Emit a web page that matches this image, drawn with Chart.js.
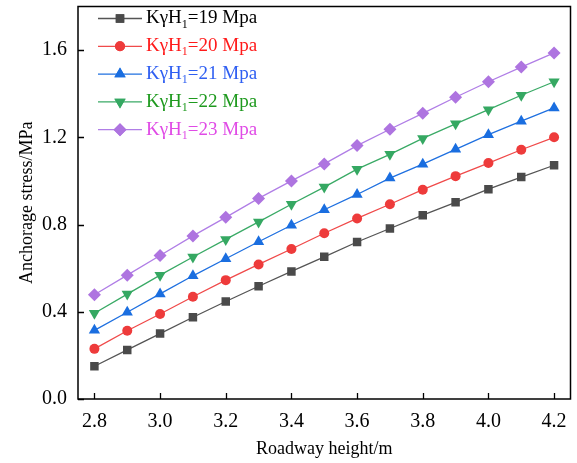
<!DOCTYPE html>
<html>
<head>
<meta charset="utf-8">
<script src="https://cdn.jsdelivr.net/npm/chart.js@4.4.1/dist/chart.umd.min.js"></script>
<style>
  html, body { margin: 0; padding: 0; background: #fff; }
  #wrap { width: 577px; height: 463px; }
</style>
</head>
<body>
<div id="wrap"><canvas id="chart" width="577" height="463"></canvas></div>
<script>
// roadway height (m)
const heights = [2.8, 2.9, 3.0, 3.1, 3.2, 3.3, 3.4, 3.5, 3.6, 3.7, 3.8, 3.9, 4.0, 4.1, 4.2];

// anchorage stress (MPa) per KγH1 level
const stress19 = [0.15, 0.225, 0.30, 0.375, 0.447, 0.517, 0.585, 0.652, 0.72, 0.782, 0.843, 0.902, 0.962, 1.018, 1.072];
const stress20 = [0.23, 0.313, 0.39, 0.469, 0.545, 0.617, 0.688, 0.76, 0.828, 0.893, 0.96, 1.022, 1.082, 1.143, 1.2];
const stress21 = [0.315, 0.398, 0.482, 0.565, 0.643, 0.721, 0.797, 0.868, 0.938, 1.013, 1.077, 1.145, 1.212, 1.274, 1.335];
const stress22 = [0.393, 0.481, 0.568, 0.651, 0.732, 0.812, 0.893, 0.972, 1.054, 1.122, 1.195, 1.262, 1.327, 1.393, 1.455];
const stress23 = [0.478, 0.568, 0.658, 0.748, 0.833, 0.92, 1.0, 1.078, 1.162, 1.237, 1.31, 1.384, 1.455, 1.522, 1.587];

const loads = ["19", "20", "21", "22", "23"];
const xTicks = [2.8, 3.0, 3.2, 3.4, 3.6, 3.8, 4.0, 4.2];
const yTicks = [0.0, 0.4, 0.8, 1.2, 1.6];

const FONT = "'Liberation Serif', 'Times New Roman', serif";

const styles = [
  { line: "#555555", fill: "#4a4a4a", text: "#000000", shape: "rect", radius: 6, rot: 0 },
  { line: "#f04a4a", fill: "#ee3b3b", text: "#ff1a1a", shape: "circle", radius: 5, rot: 0 },
  { line: "#1f70e0", fill: "#1a6ee0", text: "#2f5ff2", shape: "triangle", radius: 6.5, rot: 0 },
  { line: "#3aaa66", fill: "#35a862", text: "#1f9a1f", shape: "triangle", radius: 6.5, rot: 180 },
  { line: "#b07ee6", fill: "#ae74e0", text: "#e04be6", shape: "rectRot", radius: 6.5, rot: 0 }
];

const series = [stress19, stress20, stress21, stress22, stress23];

const datasets = series.map((vals, i) => ({
  label: "KγH1=" + loads[i] + " Mpa",
  data: heights.map((h, j) => ({ x: h, y: vals[j] })),
  borderColor: styles[i].line,
  backgroundColor: styles[i].fill,
  borderWidth: 1.3,
  pointStyle: styles[i].shape,
  pointRotation: styles[i].rot,
  pointRadius: styles[i].radius,
  pointBorderWidth: 0,
  pointBackgroundColor: styles[i].fill,
  tension: 0
}));

// frame, inward ticks and the legend with subscript
const decor = {
  id: "decor",
  afterDraw(chart) {
    const ctx = chart.ctx;
    const a = chart.chartArea;
    const xs = chart.scales.x, ys = chart.scales.y;
    ctx.save();
    ctx.strokeStyle = "#000";
    ctx.lineWidth = 1.5;
    ctx.strokeRect(a.left, a.top, a.right - a.left, a.bottom - a.top);
    ctx.lineWidth = 1.3;
    ctx.beginPath();
    xTicks.forEach(v => {
      const px = Math.round(xs.getPixelForValue(v)) + 0.5;
      ctx.moveTo(px, a.bottom);
      ctx.lineTo(px, a.bottom - 6);
    });
    yTicks.forEach(v => {
      const py = Math.round(ys.getPixelForValue(v)) + 0.5;
      ctx.moveTo(a.left, py);
      ctx.lineTo(a.left + 6, py);
    });
    ctx.stroke();

    // legend
    const x0 = 98, x1 = 142, tx = 146;
    chart.data.datasets.forEach((ds, i) => {
      const y = 18.5 + i * 27.8;
      const st = styles[i];
      ctx.strokeStyle = st.line;
      ctx.lineWidth = 1.3;
      ctx.beginPath();
      ctx.moveTo(x0, y);
      ctx.lineTo(x1, y);
      ctx.stroke();
      ctx.fillStyle = st.fill;
      Chart.helpers.drawPoint(ctx, { pointStyle: st.shape, rotation: st.rot, radius: st.radius, borderWidth: 0 }, (x0 + x1) / 2, y);
      ctx.fill();

      ctx.fillStyle = st.text;
      ctx.textBaseline = "middle";
      ctx.textAlign = "left";
      ctx.font = "19px " + FONT;
      let cx = tx;
      ctx.fillText("KγH", cx, y);
      cx += ctx.measureText("KγH").width;
      ctx.font = "12px " + FONT;
      ctx.fillText("1", cx, y + 6);
      cx += ctx.measureText("1").width;
      ctx.font = "19px " + FONT;
      ctx.fillText("=" + loads[i] + " Mpa", cx, y);
    });
    ctx.restore();
  }
};

new Chart(document.getElementById("chart"), {
  type: "line",
  data: { datasets },
  options: {
    responsive: false,
    animation: false,
    layout: { padding: { left: 0, top: 2, right: 5, bottom: 0 } },
    plugins: { legend: { display: false }, tooltip: { enabled: false } },
    scales: {
      x: {
        type: "linear",
        min: 2.75,
        max: 4.25,
        afterBuildTicks: s => { s.ticks = xTicks.map(v => ({ value: v })); },
        afterFit: s => { s.height = 64; s.paddingLeft = 0; s.paddingRight = 0; },
        grid: { display: false },
        border: { display: false },
        ticks: {
          color: "#000",
          font: { family: FONT, size: 20 },
          padding: 3,
          maxRotation: 0,
          callback: v => v.toFixed(1)
        },
        title: {
          display: true,
          text: "Roadway height/m",
          color: "#000",
          font: { family: FONT, size: 18 },
          padding: { top: 3, bottom: 3 }
        }
      },
      y: {
        min: 0,
        max: 1.8,
        afterBuildTicks: s => { s.ticks = yTicks.map(v => ({ value: v })); },
        afterFit: s => { s.width = 78; s.paddingTop = 0; s.paddingBottom = 0; },
        grid: { display: false },
        border: { display: false },
        ticks: {
          color: "#000",
          font: { family: FONT, size: 20 },
          padding: 3,
          callback: v => v.toFixed(1)
        },
        title: {
          display: true,
          text: "Anchorage stress/MPa",
          color: "#000",
          font: { family: FONT, size: 18 },
          padding: { top: 16, bottom: 16 }
        }
      }
    }
  },
  plugins: [decor]
});
</script>
</body>
</html>
